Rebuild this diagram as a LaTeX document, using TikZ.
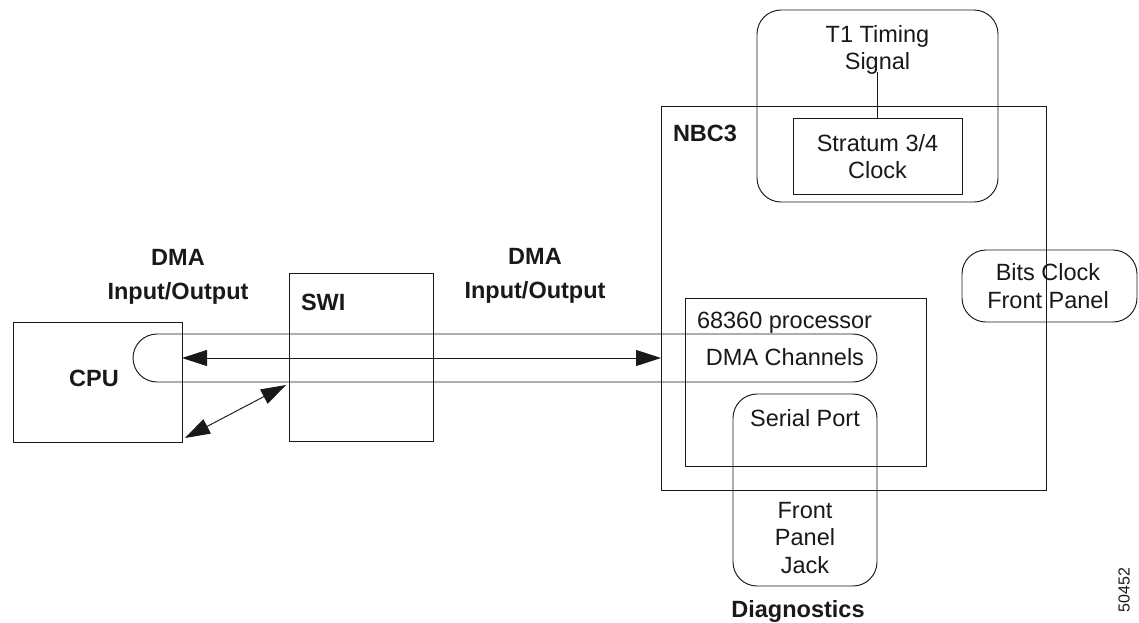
\documentclass[tikz,border=0pt]{standalone}
\usepackage{fontspec}
\setmainfont{Liberation Sans}
\usetikzlibrary{arrows.meta,calc}

\begin{document}
\begin{tikzpicture}[x=1pt,y=-1pt,
  line width=0.95pt,
  every node/.style={inner sep=0pt,outer sep=0pt},
  txt/.style={font=\fontsize{23.5}{27.5}\selectfont,align=center,text=black!90},
  btxt/.style={font=\fontsize{23.5}{34}\selectfont\bfseries,align=center,text=black!90},
  blockbox/.style={draw=black!90},
  roundbox/.style={draw=black!90,rounded corners=24pt},
  dbl/.style={draw=black!90,{Triangle[length=25pt,width=16pt]}-{Triangle[length=25pt,width=16pt]}}
]
\useasboundingbox (0,0) rectangle (1139,622);

% main blocks
\node[blockbox,minimum width=169pt,minimum height=120pt] (cpu) at (97.5,382) {};
\node[blockbox,minimum width=144pt,minimum height=168pt] (swi) at (361,357) {};
\node[blockbox,minimum width=385pt,minimum height=384pt] (nbc) at (853.5,298) {};

% timing section
\node[roundbox,minimum width=241pt,minimum height=192pt] (tone) at (877.5,106) {};
\node[blockbox,minimum width=169pt,minimum height=76pt] (strat) at (877.5,156) {};
\node[roundbox,minimum width=175pt,minimum height=72pt] (bits) at (1049.5,286) {};

% processor and its channels
\node[blockbox,minimum width=241pt,minimum height=168pt] (proc) at (805.5,382) {};
\node[roundbox,minimum width=744pt,minimum height=48pt] (chan) at (505,358) {};
\node[roundbox,minimum width=144pt,minimum height=192pt] (serial) at (805,490) {};

% texts
\node[btxt] (cpuT) at (94,378) {CPU};
\node[btxt,anchor=west] (swiT) at (301,302) {SWI};
\node[btxt,anchor=west] (nbcT) at (673,133) {NBC3};
\node[btxt] (dmaL) at (178,277) {DMA\\Input/Output};
\node[btxt] (dmaR) at (535,276) {DMA\\Input/Output};
\node[txt] (toneT) at (877.5,50) {T1 Timing\\Signal};
\node[txt] (stratT) at (877.5,156.5) {Stratum 3/4\\Clock};
\node[txt] (bitsT) at (1048,286) {Bits Clock\\Front Panel};
\node[txt,anchor=west] (procT) at (697,323) {68360 processor};
\node[txt] (chanT) at (785,357) {DMA Channels};
\node[txt] (serialT) at (805,418) {Serial Port};
\node[txt] (jackT) at (805,538) {Front\\Panel\\Jack};
\node[btxt] (diagT) at (798,611) {Diagnostics};
\node[font=\fontsize{16}{16}\selectfont,rotate=90,text=black!90] (num) at (1124,590) {50452};

% connectors
\coordinate (sigEnd) at (877.5,72);
\draw[black!90] (strat.north) -- (sigEnd);
\draw[dbl] (cpu.east |- chan.center) -- (nbc.west |- chan.center);
\coordinate (dgA) at ($(cpu.south east)+(3,-4)$);
\coordinate (dgB) at ($(swi.south west)+(-3,-56)$);
\draw[dbl] (dgA) -- (dgB);
\end{tikzpicture}
\end{document}
